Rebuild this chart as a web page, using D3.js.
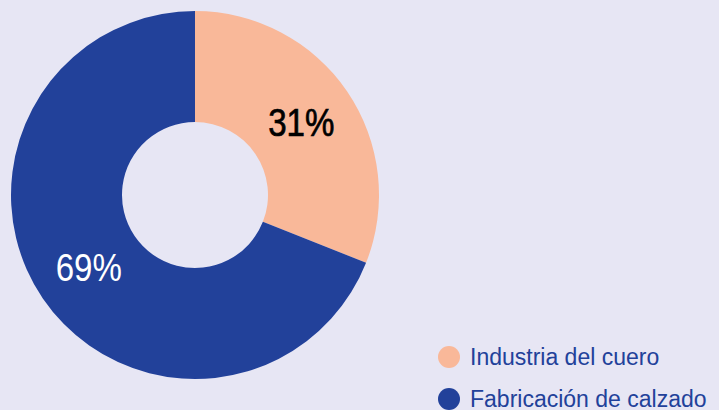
<!DOCTYPE html>
<html>
<head>
<meta charset="utf-8">
<script src="https://cdn.jsdelivr.net/npm/d3@7.9.0/dist/d3.min.js"></script>
<style>
  html, body { margin: 0; padding: 0; background: #e7e6f4; }
  svg { display: block; }
</style>
</head>
<body>
<svg id="chart" width="719" height="410"></svg>
<script>
// data
const categories = ['Industria del cuero', 'Fabricación de calzado'];
const shares = [31, 69];
const sliceColors = ['#f9b899', '#22419a'];
const labelColors = ['#000000', '#ffffff'];
const labelStroke = [0.7, 0];

const svg = d3.select('#chart');
const cx = 195, cy = 195;
const outerR = 184, innerR = 73;

const data = categories.map((c, i) => ({ label: c, value: shares[i] }));

const pie = d3.pie().value(d => d.value).sort(null);
const arc = d3.arc().innerRadius(innerR).outerRadius(outerR);
const arcs = pie(data);

const g = svg.append('g').attr('transform', `translate(${cx},${cy})`);

//slices
g.selectAll('path')
  .data(arcs)
  .join('path')
  .attr('d', arc)
  .attr('fill', (d, i) => sliceColors[i]);

//percentage labels (condensed look via horizontal scale)
g.selectAll('g.lbl')
  .data(arcs)
  .join('g')
  .attr('class', 'lbl')
  .attr('transform', d => `translate(${arc.centroid(d)}) scale(0.87,1)`)
  .append('text')
  .attr('text-anchor', 'middle')
  .attr('dy', '0.36em')
  .attr('font-family', '"Liberation Sans", Arial, sans-serif')
  .attr('font-size', 38)
  .attr('fill', (d, i) => labelColors[i])
  .attr('stroke', (d, i) => labelColors[i])
  .attr('stroke-width', (d, i) => labelStroke[i])
  .text(d => d.data.value + '%');

//legend
const legend = svg.append('g').attr('transform', 'translate(449,357)');
data.forEach((d, i) => {
  const row = legend.append('g').attr('transform', `translate(0,${i * 42})`);
  row.append('circle').attr('r', 11).attr('fill', sliceColors[i]);
  row.append('text')
    .attr('x', 21)
    .attr('dy', '0.36em')
    .attr('font-family', 'Liberation Sans, Arial, sans-serif')
    .attr('font-size', 23)
    .attr('fill', '#22419a')
    .text(d.label);
});
</script>
</body>
</html>
